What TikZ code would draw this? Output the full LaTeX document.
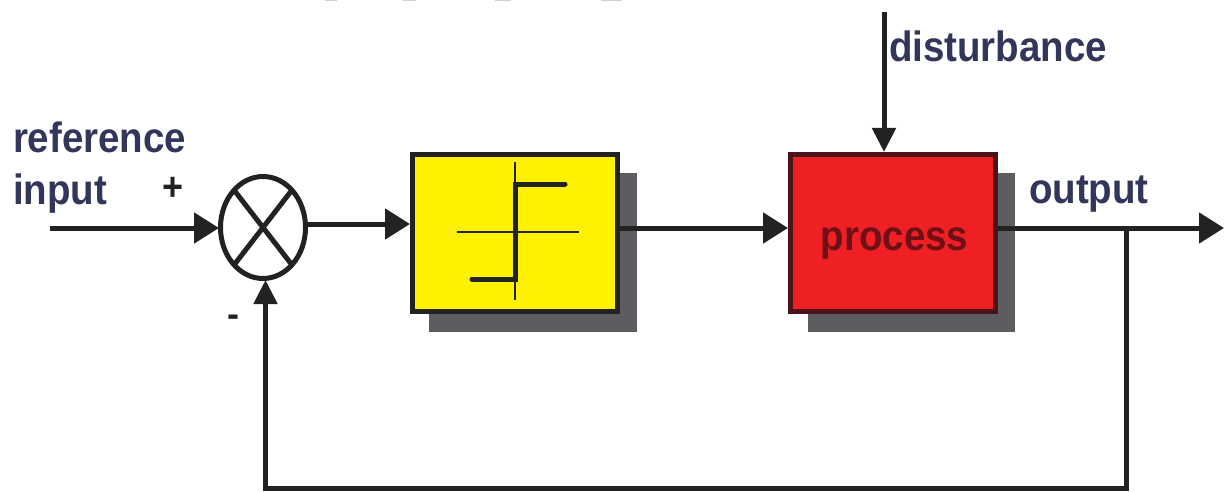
\documentclass[tikz,border=0pt]{standalone}
\usepackage{graphicx}
\usepackage{fontspec}
\setmainfont{Liberation Sans}
\usetikzlibrary{arrows.meta,shapes.geometric}
\definecolor{ink}{HTML}{222222}
\definecolor{labelc}{HTML}{32365A}
\definecolor{shadowc}{HTML}{5C5D61}
\definecolor{yel}{HTML}{FFF200}
\definecolor{redb}{HTML}{EE2024}
\definecolor{redline}{HTML}{4A1418}
\definecolor{redtext}{HTML}{6E1016}
\definecolor{ghost}{HTML}{D0D0D0}
\newcommand{\tallbox}[1]{\scalebox{1}[1.1]{#1}}
\tikzset{x=1pt,y=-1pt,
  wire/.style={draw=ink,line width=5pt},
  arrowh/.style={wire,-{Triangle[length=25pt,width=30pt]}},
  arrowv/.style={wire,-{Triangle[length=24pt,width=23pt]}},
  labeltext/.style={text=labelc,font=\fontsize{38.5}{38.5}\selectfont\bfseries,anchor=base west,inner sep=0pt,outer sep=0pt},
  signtext/.style={text=ink,font=\fontsize{36}{36}\selectfont\bfseries,inner sep=0pt,outer sep=0pt},
  blockbox/.style={line width=5.5pt,minimum width=205pt,minimum height=157pt,inner sep=0pt,outer sep=0pt},
  thinaxis/.style={draw=ink,line width=1.8pt},
  relayline/.style={draw=ink,line width=5pt,line cap=round,line join=miter},
}
\begin{document}
\begin{tikzpicture}
\useasboundingbox (0,0) rectangle (1228,492);
\fill[white] (0,0) rectangle (1228,492);
% remnants at the top edge
\fill[ghost] (325,0) rectangle (337,1.5);
\fill[ghost] (403,0) rectangle (416,1.5);
\fill[ghost] (495,0) rectangle (511,1.5);
\fill[ghost] (601,0) rectangle (622,1.5);
% shadows
\fill[shadowc] (429,173) rectangle (637,332);
\fill[shadowc] (808,173) rectangle (1015,332);
% blocks
\node[blockbox,draw=ink,fill=yel] (ctrl) at (515,233) {};
\node[blockbox,draw=redline,fill=redb] (proc) at (893,233) {};
\node[text=redtext,font=\fontsize{38.5}{38.5}\selectfont\bfseries,anchor=base,inner sep=0pt] (ptxt) at (894.5,250) {\tallbox{process}};
% relay symbol
\coordinate (ax1) at (457,232); \coordinate (ax2) at (579,232);
\coordinate (ay1) at (515,162); \coordinate (ay2) at (515,300);
\draw[thinaxis] (ax1) -- (ax2);
\draw[thinaxis] (ay1) -- (ay2);
\coordinate (r1) at (472,279); \coordinate (r2) at (515,279);
\coordinate (r3) at (515,184); \coordinate (r4) at (565,184);
\draw[relayline] (r1) -- (r2) -- (r3) -- (r4);
% summing junction
\node[draw=ink,line width=5pt,fill=white,ellipse,minimum width=85pt,minimum height=102pt,inner sep=0pt,outer sep=0pt] (sum) at (263,227.5) {};
\coordinate (x1) at (234,190); \coordinate (x2) at (292,265);
\coordinate (x3) at (292,190); \coordinate (x4) at (234,265);
\draw[ink,line width=5pt] (x1) -- (x2);
\draw[ink,line width=5pt] (x3) -- (x4);
% connectors
\coordinate (inS) at (50,228);
\coordinate (inE) at (219,228);
\draw[arrowh] (inS) -- (inE);
\coordinate (sE) at (305,224);
\coordinate (cW) at (410,224);
\draw[arrowh] (sE) -- (cW);
\coordinate (cE) at (620,228);
\coordinate (pW) at (788,228);
\draw[arrowh] (cE) -- (pW);
\coordinate (pE) at (998,228);
\coordinate (outE) at (1224,228);
\draw[arrowh] (pE) -- (outE);
\coordinate (dS) at (884,12);
\coordinate (dE) at (884,152);
\draw[arrowv] (dS) -- (dE);
\coordinate (t) at (1126,228);
\coordinate (fb1) at (1126,488.5);
\coordinate (fb2) at (265.5,488.5);
\coordinate (fb3) at (265.5,280);
\draw[arrowv] (t) -- (fb1) -- (fb2) -- (fb3);
% labels
\node[labeltext] (lref) at (13,152) {\tallbox{reference}};
\node[labeltext] (linp) at (13,204.5) {\tallbox{input}};
\node[labeltext] (ldis) at (889,62) {\tallbox{disturbance}};
\node[labeltext] (lout) at (1029,203) {\tallbox{output}};
\node[signtext] (lplus) at (173.5,189) {\tallbox{+}};
\node[signtext] (lminus) at (233,321) {-};
\end{tikzpicture}
\end{document}
